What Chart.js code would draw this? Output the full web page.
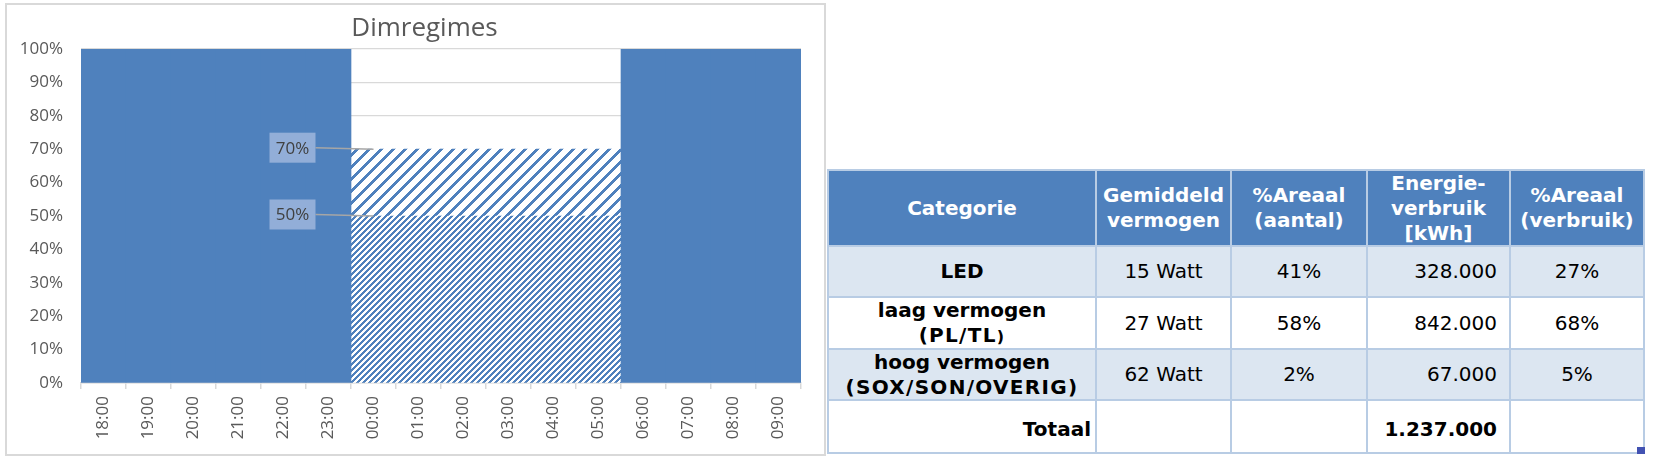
<!DOCTYPE html>
<html>
<head>
<meta charset="utf-8">
<script src="https://cdn.jsdelivr.net/npm/chart.js@4/dist/chart.umd.min.js"></script>
<style>
  html, body { margin:0; padding:0; background:#fff; }
  body { width:1653px; height:459px; overflow:hidden; position:relative; }
  #frame { position:absolute; left:5px; top:3px; width:817px; height:449px; border:2px solid #d9d9d9; }
  #c { position:absolute; left:0; top:0; }
  #tbl { position:absolute; left:827px; top:169px; width:818px; height:285px; box-sizing:border-box;
         padding:2px; background:#b8cce4; display:grid;
         grid-template-columns:266px 133px 134px 141px 132px;
         grid-template-rows:74px 49px 50px 49px 51px; gap:2px;
         font-family:"DejaVu Sans", Verdana, sans-serif; font-size:20px; line-height:25px; color:#000; }
  #tbl > div { display:flex; align-items:center; justify-content:center; text-align:center; white-space:nowrap; }
  #tbl > div > div { display:block; }
  #tbl .h { background:#4f81bd; color:#fff; font-weight:bold; }
  #tbl .alt { background:#dce6f1; }
  #tbl .w { background:#fff; }
  #tbl .b { font-weight:bold; }
  #tbl .r { justify-content:flex-end; padding-right:12px; }
  #tbl .tot { justify-content:flex-end; padding-right:4px; padding-top:6px; }
  #tbl .sp { letter-spacing:1.3px; }
  #handle { position:absolute; left:1637px; top:447px; width:8px; height:7px; background:#4252b2; }
</style>
</head>
<body>
<div id="frame"><canvas id="c" width="816" height="448"></canvas></div>

<div id="tbl">
  <div class="h"><div>Categorie</div></div>
  <div class="h"><div>Gemiddeld<br>vermogen</div></div>
  <div class="h"><div>%Areaal<br>(aantal)</div></div>
  <div class="h"><div>Energie-<br>verbruik<br>[kWh]</div></div>
  <div class="h"><div>%Areaal<br>(verbruik)</div></div>

  <div class="alt b"><div>LED</div></div>
  <div class="alt"><div>15 Watt</div></div>
  <div class="alt"><div>41%</div></div>
  <div class="alt r"><div>328.000</div></div>
  <div class="alt"><div>27%</div></div>

  <div class="w b"><div>laag vermogen<br><span class="sp">(PL/TL<span style="font-size:16px">)</span></span></div></div>
  <div class="w"><div>27 Watt</div></div>
  <div class="w"><div>58%</div></div>
  <div class="w r"><div>842.000</div></div>
  <div class="w"><div>68%</div></div>

  <div class="alt b"><div>hoog vermogen<br><span class="sp">(SOX/SON/OVERIG)</span></div></div>
  <div class="alt"><div>62 Watt</div></div>
  <div class="alt"><div>2%</div></div>
  <div class="alt r"><div>67.000</div></div>
  <div class="alt"><div>5%</div></div>

  <div class="w b tot"><div>Totaal</div></div>
  <div class="w"></div>
  <div class="w"></div>
  <div class="w b r" style="padding-top:6px"><div>1.237.000</div></div>
  <div class="w"></div>
</div>
<div id="handle"></div>

<script>
// ---- data ----
const chartTitle = 'Dimregimes';
const hours = ['18:00','19:00','20:00','21:00','22:00','23:00','00:00','01:00','02:00','03:00','04:00','05:00','06:00','07:00','08:00','09:00'];
const fullPower = [100,100,100,100,100,100,null,null,null,null,null,null,100,100,100,100];
const dimLow    = [null,null,null,null,null,null,50,50,50,50,50,50,null,null,null,null];
const dimExtra  = [null,null,null,null,null,null,20,20,20,20,20,20,null,null,null,null]; // stacked on dimLow -> 70%
const yTickMin = 0, yTickMax = 100, yTickStep = 10;

// ---- styles ----
const BLUE = '#4f81bd';
const GREY_TXT = '#595959';
const GRID = '#d9d9d9';
const FONT = '"Open Sans", "DejaVu Sans", sans-serif';

const canvas = document.getElementById('c');
const mainCtx = canvas.getContext('2d');

function makePattern(period, band) {
  const t = document.createElement('canvas');
  t.width = period; t.height = period;
  const tc = t.getContext('2d');
  const img = tc.createImageData(period, period);
  for (let y = 0; y < period; y++) {
    for (let x = 0; x < period; x++) {
      const on = ((x + y) % period) < band;
      const i = (y * period + x) * 4;
      img.data[i]   = on ? 0x4f : 255;
      img.data[i+1] = on ? 0x81 : 255;
      img.data[i+2] = on ? 0xbd : 255;
      img.data[i+3] = 255;
    }
  }
  tc.putImageData(img, 0, 0);
  return mainCtx.createPattern(t, 'repeat');
}
const finePattern = makePattern(6, 3);
const widePattern = makePattern(12, 4);

const titlePlugin = {
  id: 'titleText',
  afterDraw(chart) {
    const ctx = chart.ctx;
    ctx.save();
    ctx.font = '26px ' + FONT;
    ctx.fillStyle = GREY_TXT;
    ctx.textAlign = 'center';
    ctx.textBaseline = 'alphabetic';
    ctx.fillText(chartTitle, 417.5, 31);
    ctx.restore();
  }
};

const labelPlugin = {
  id: 'dimLabels',
  afterDatasetsDraw(chart) {
    const ctx = chart.ctx;
    const xs = chart.scales.x, ys = chart.scales.y;
    const idx = dimLow.findIndex(v => v != null);
    const xBar = xs.getPixelForValue(idx);
    const levels = [dimLow[idx], dimLow[idx] + dimExtra[idx]];
    levels.forEach(v => {
      const yv = ys.getPixelForValue(v);
      const cx = xBar - 81, cy = yv - 1.5, w = 46, h = 30;
      ctx.save();
      ctx.strokeStyle = '#a6a6a6';
      ctx.lineWidth = 1.5;
      ctx.beginPath();
      ctx.moveTo(cx + w / 2, cy);
      ctx.lineTo(xBar, yv);
      ctx.stroke();
      ctx.fillStyle = '#92aed8';
      ctx.fillRect(cx - w / 2, cy - h / 2, w, h);
      ctx.fillStyle = '#404040';
      ctx.font = '17px ' + FONT;
      ctx.textAlign = 'center';
      ctx.textBaseline = 'middle';
      ctx.fillText(v + '%', cx, cy + 1);
      ctx.restore();
    });
  }
};

new Chart(canvas, {
  type: 'bar',
  data: {
    labels: hours,
    datasets: [
      { label: 'Vol', data: fullPower, backgroundColor: BLUE, borderWidth: 0 },
      { label: 'Dim 50%', data: dimLow, backgroundColor: finePattern, borderWidth: 0 },
      { label: 'Dim 70%', data: dimExtra, backgroundColor: widePattern, borderWidth: 0 }
    ]
  },
  options: {
    responsive: false,
    animation: false,
    devicePixelRatio: 1,
    layout: { padding: { top: 44, right: 22, bottom: 0, left: 0 } },
    datasets: { bar: { categoryPercentage: 1, barPercentage: 1 } },
    plugins: { legend: { display: false }, tooltip: { enabled: false }, title: { display: false } },
    scales: {
      x: {
        stacked: true,
        grid: { offset: true, drawOnChartArea: false, drawTicks: true, tickLength: 6, color: GRID, lineWidth: 1.5 },
        border: { color: GRID, width: 1.5 },
        ticks: { autoSkip: false, maxRotation: 90, minRotation: 90, padding: 7, color: GREY_TXT, font: { family: FONT, size: 17 } },
        afterFit(s) { s.height = 70; }
      },
      y: {
        stacked: true,
        min: yTickMin, max: yTickMax,
        grid: { color: GRID, lineWidth: 1.3, drawTicks: false },
        border: { display: false },
        ticks: { stepSize: yTickStep, padding: 18, color: GREY_TXT, font: { family: FONT, size: 17 }, callback: v => v + '%' },
        afterFit(s) { s.width = 74; }
      }
    }
  },
  plugins: [titlePlugin, labelPlugin]
});
</script>
</body>
</html>
